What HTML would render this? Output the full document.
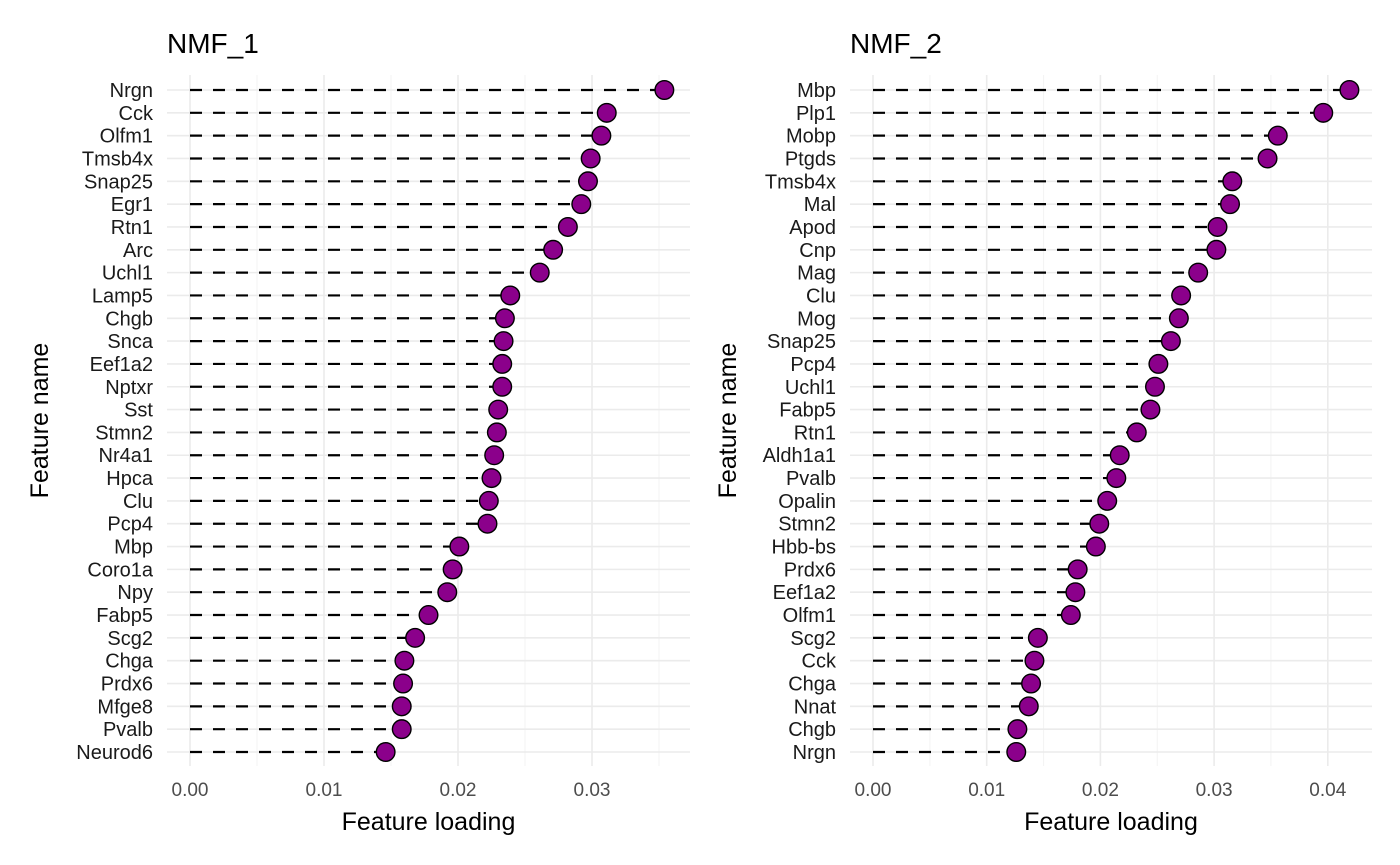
<!DOCTYPE html>
<html><head><meta charset="utf-8"><style>
body{margin:0;background:#fff;}
svg{display:block;font-family:"Liberation Sans",Arial,sans-serif;}
</style></head><body>
<svg id="chart" width="1400" height="865"></svg>
<script>
const genes1=["Nrgn","Cck","Olfm1","Tmsb4x","Snap25","Egr1","Rtn1","Arc","Uchl1","Lamp5","Chgb","Snca","Eef1a2","Nptxr","Sst","Stmn2","Nr4a1","Hpca","Clu","Pcp4","Mbp","Coro1a","Npy","Fabp5","Scg2","Chga","Prdx6","Mfge8","Pvalb","Neurod6"];
const vals1=[0.0354,0.0311,0.0307,0.0299,0.0297,0.0292,0.0282,0.0271,0.0261,0.0239,0.0235,0.0234,0.0233,0.0233,0.0230,0.0229,0.0227,0.0225,0.0223,0.0222,0.0201,0.0196,0.0192,0.0178,0.0168,0.0160,0.0159,0.0158,0.0158,0.0146];
const genes2=["Mbp","Plp1","Mobp","Ptgds","Tmsb4x","Mal","Apod","Cnp","Mag","Clu","Mog","Snap25","Pcp4","Uchl1","Fabp5","Rtn1","Aldh1a1","Pvalb","Opalin","Stmn2","Hbb-bs","Prdx6","Eef1a2","Olfm1","Scg2","Cck","Chga","Nnat","Chgb","Nrgn"];
const vals2=[0.0419,0.0396,0.0356,0.0347,0.0316,0.0314,0.0303,0.0302,0.0286,0.0271,0.0269,0.0262,0.0251,0.0248,0.0244,0.0232,0.0217,0.0214,0.0206,0.0199,0.0196,0.0180,0.0178,0.0174,0.0145,0.0142,0.0139,0.0137,0.0127,0.0126];
const ticks1=[0,0.01,0.02,0.03];
const ticks2=[0,0.01,0.02,0.03,0.04];
const titles=["NMF_1","NMF_2"];
const NS="http://www.w3.org/2000/svg";
const svg=document.getElementById("chart");
function mk(tag,attrs,parent){const e=document.createElementNS(NS,tag);for(const k in attrs)e.setAttribute(k,attrs[k]);(parent||svg).appendChild(e);return e;}
function panel(idx,genes,vals,ticks,x0,pxPer,left,right){
  const g=mk("g",{});
  
  
  const xs=v=>x0+v*pxPer;
  const y0=90,step=(752-90)/29,ys=i=>y0+i*step;
  const top=75,bot=766;
  for(let i=0;i<ticks.length;i++){
    const m=ticks[i]+0.005;
    if(xs(m)<right) mk("line",{x1:xs(m),x2:xs(m),y1:top,y2:bot,stroke:"#f3f3f3","stroke-width":1},g);
  }
  for(const t of ticks) mk("line",{x1:xs(t),x2:xs(t),y1:top,y2:bot,stroke:"#ebebeb","stroke-width":1.6},g);
  genes.forEach((n,i)=>mk("line",{x1:left,x2:right,y1:ys(i),y2:ys(i),stroke:"#ebebeb","stroke-width":1.6},g));
  ticks.forEach(t=>{const tx=mk("text",{x:xs(t),y:796,"text-anchor":"middle","font-size":19,fill:"#4d4d4d"},g);tx.textContent=t.toFixed(2);
    });
  genes.forEach((n,i)=>{
    const tx=mk("text",{x:left-14,y:ys(i)+7,"text-anchor":"end","font-size":20,fill:"#1a1a1a"},g);tx.textContent=n;
    
    const ln=mk("line",{x1:xs(0),x2:xs(vals[i]),y1:ys(i),y2:ys(i),stroke:"#000","stroke-width":2.2,"stroke-dasharray":"12,11"},g);
    
    const c=mk("circle",{cx:xs(vals[i]),cy:ys(i),r:9.3,fill:"#8b008b",stroke:"#000","stroke-width":1.4},g);
    
  });
  const ti=mk("text",{x:left,y:53,"font-size":28,fill:"#000"},g);ti.textContent=titles[idx];
  
  const xt=mk("text",{x:(left+right)/2,y:830,"text-anchor":"middle","font-size":25,fill:"#000"},g);xt.textContent="Feature loading";
  
  const yt=mk("text",{x:0,y:0,"text-anchor":"middle","font-size":25,fill:"#000",transform:`translate(${idx?736:48},${(top+bot)/2}) rotate(-90)`},g);yt.textContent="Feature name";
  
}
panel(0,genes1,vals1,ticks1,190,13400,167,690);
panel(1,genes2,vals2,ticks2,873,11370,850,1372);
</script>
</body></html>
